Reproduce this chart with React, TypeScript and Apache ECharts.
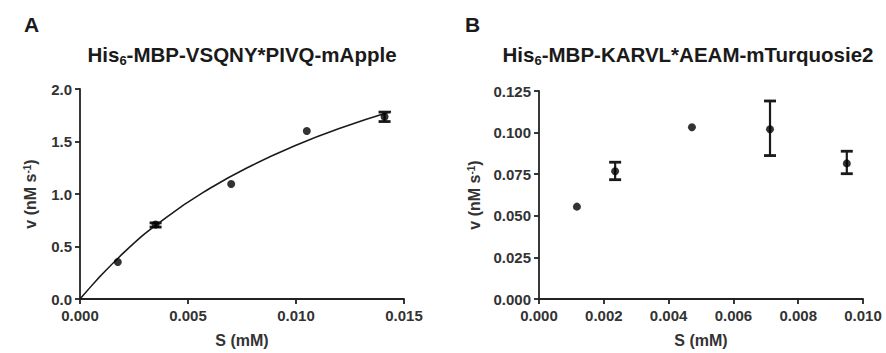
import React, { useEffect, useRef } from "react";
import * as echarts from "echarts";

// Panel A: His6-MBP-VSQNY*PIVQ-mApple
const sA = [0.00175, 0.0035, 0.007, 0.0105, 0.0141];
const vA = [0.352, 0.71, 1.095, 1.6, 1.735];
const vALow = [0.352, 0.685, 1.095, 1.6, 1.69];
const vAHigh = [0.352, 0.725, 1.095, 1.6, 1.78];
// fitted curve
const fitS = [0, 0.002, 0.004, 0.006, 0.008, 0.01, 0.012, 0.0144];
const fitV = [0, 0.437, 0.778, 1.052, 1.277, 1.464, 1.623, 1.785];

// Panel B: His6-MBP-KARVL*AEAM-mTurquosie2
const sB = [0.00117, 0.00235, 0.00472, 0.00713, 0.0095];
const vB = [0.0555, 0.0768, 0.1032, 0.102, 0.0815];
const vBLow = [0.0555, 0.0717, 0.1032, 0.0862, 0.0753];
const vBHigh = [0.0555, 0.0822, 0.1032, 0.119, 0.0888];

const ticksAX = ["0.000", "0.005", "0.010", "0.015"];
const ticksAY = ["0.0", "0.5", "1.0", "1.5", "2.0"];
const ticksBX = ["0.000", "0.002", "0.004", "0.006", "0.008", "0.010"];
const ticksBY = ["0.000", "0.025", "0.050", "0.075", "0.100", "0.125"];

const FONT = "'Liberation Sans', Arial, sans-serif";
const INK = "#1a1a1a";
const LABEL = "#333";

function errRender(params: any, api: any) {
  const x = api.value(0);
  const lo = api.coord([x, api.value(1)]);
  const hi = api.coord([x, api.value(2)]);
  if (Math.abs(lo[1] - hi[1]) < 0.5) return { type: "group", children: [] };
  const hw = 6;
  const style = { stroke: INK, lineWidth: 2.2 };
  return {
    type: "group",
    children: [
      { type: "line", shape: { x1: lo[0], y1: lo[1], x2: hi[0], y2: hi[1] }, style },
      { type: "line", shape: { x1: lo[0] - hw, y1: lo[1], x2: lo[0] + hw, y2: lo[1] }, style: { ...style, lineWidth: 2.8 } },
      { type: "line", shape: { x1: hi[0] - hw, y1: hi[1], x2: hi[0] + hw, y2: hi[1] }, style: { ...style, lineWidth: 2.8 } },
    ],
  };
}

function axisCommon(labels: string[], margin: number) {
  const dec = labels[0].includes(".") ? labels[0].split(".")[1].length : 0;
  return {
    splitLine: { show: false },
    axisLine: { onZero: false, lineStyle: { color: "#222", width: 1.8 } },
    axisTick: { show: true, length: 5, lineStyle: { color: "#222", width: 1.8 } },
    axisLabel: {
      color: LABEL,
      fontFamily: FONT,
      fontWeight: "bold",
      fontSize: 15,
      margin,
      formatter: (v: number) => v.toFixed(dec),
    },
  };
}

const yName = "v (nM s{sup|-1})";
const nameStyle = {
  color: LABEL,
  fontFamily: FONT,
  fontWeight: "bold",
  fontSize: 16,
  rich: {
    sup: { fontSize: 10, fontWeight: "bold", color: LABEL, fontFamily: FONT, verticalAlign: "top" },
  },
};

export default function App() {
  const ref = useRef<HTMLDivElement>(null);
  useEffect(() => {
    if (!ref.current) return;
    const chart = echarts.init(ref.current, null, { renderer: "svg" });
    const titleRich = {
      sub: { fontSize: 13, fontWeight: "bold", color: INK, fontFamily: FONT, verticalAlign: "bottom" },
    };
    chart.setOption({
      animation: false,
      backgroundColor: "#fff",
      grid: [
        { left: 80, top: 89, width: 324, height: 216 },
        { left: 539, top: 91, width: 324, height: 214 },
      ],
      xAxis: [
        {
          type: "value", gridIndex: 0, min: 0, max: 0.015, interval: 0.005,
          name: "S (mM)", nameLocation: "middle", nameGap: 33, nameTextStyle: nameStyle,
          ...axisCommon(ticksAX, 9),
        },
        {
          type: "value", gridIndex: 1, min: 0, max: 0.01, interval: 0.002,
          name: "S (mM)", nameLocation: "middle", nameGap: 33, nameTextStyle: nameStyle,
          ...axisCommon(ticksBX, 9),
        },
      ],
      yAxis: [
        {
          type: "value", gridIndex: 0, min: 0, max: 2, interval: 0.5,
          name: yName, nameLocation: "middle", nameGap: 42, nameTextStyle: nameStyle,
          ...axisCommon(ticksAY, 8),
        },
        {
          type: "value", gridIndex: 1, min: 0, max: 0.125, interval: 0.025,
          name: yName, nameLocation: "middle", nameGap: 57, nameTextStyle: nameStyle,
          ...axisCommon(ticksBY, 8),
        },
      ],
      graphic: [
        { type: "text", x: 24, y: 14, style: { text: "A", fontSize: 21, fontWeight: "bold", fill: INK, fontFamily: FONT } },
        { type: "text", x: 465, y: 14, style: { text: "B", fontSize: 21, fontWeight: "bold", fill: INK, fontFamily: FONT } },
        {
          type: "text", x: 242, y: 54,
          style: {
            text: "His{sub|6}-MBP-VSQNY*PIVQ-mApple", fontSize: 20.5, fontWeight: "bold", fill: INK, fontFamily: FONT,
            align: "center", verticalAlign: "middle", lineHeight: 26, rich: titleRich,
          },
        },
        {
          type: "text", x: 688, y: 54,
          style: {
            text: "His{sub|6}-MBP-KARVL*AEAM-mTurquosie2", fontSize: 20.5, fontWeight: "bold", fill: INK, fontFamily: FONT,
            align: "center", verticalAlign: "middle", lineHeight: 26, rich: titleRich,
          },
        },
      ],
      series: [
        {
          type: "line", xAxisIndex: 0, yAxisIndex: 0, smooth: true, showSymbol: false,
          lineStyle: { color: INK, width: 1.6 },
          data: fitS.map((s, i) => [s, fitV[i]]),
          z: 2,
        },
        {
          type: "custom", xAxisIndex: 0, yAxisIndex: 0, renderItem: errRender,
          data: sA.map((s, i) => [s, vALow[i], vAHigh[i]]), z: 3,
        },
        {
          type: "scatter", xAxisIndex: 0, yAxisIndex: 0, symbol: "circle", symbolSize: 8,
          itemStyle: { color: "#000" }, data: sA.map((s, i) => [s, vA[i]]), z: 4,
        },
        {
          type: "custom", xAxisIndex: 1, yAxisIndex: 1, renderItem: errRender,
          data: sB.map((s, i) => [s, vBLow[i], vBHigh[i]]), z: 3,
        },
        {
          type: "scatter", xAxisIndex: 1, yAxisIndex: 1, symbol: "circle", symbolSize: 8,
          itemStyle: { color: "#000" }, data: sB.map((s, i) => [s, vB[i]]), z: 4,
        },
      ],
    });
    return () => chart.dispose();
  }, []);
  return <div ref={ref} style={{ position: "absolute", left: 0, top: 0, width: 886, height: 353 }} />;
}
